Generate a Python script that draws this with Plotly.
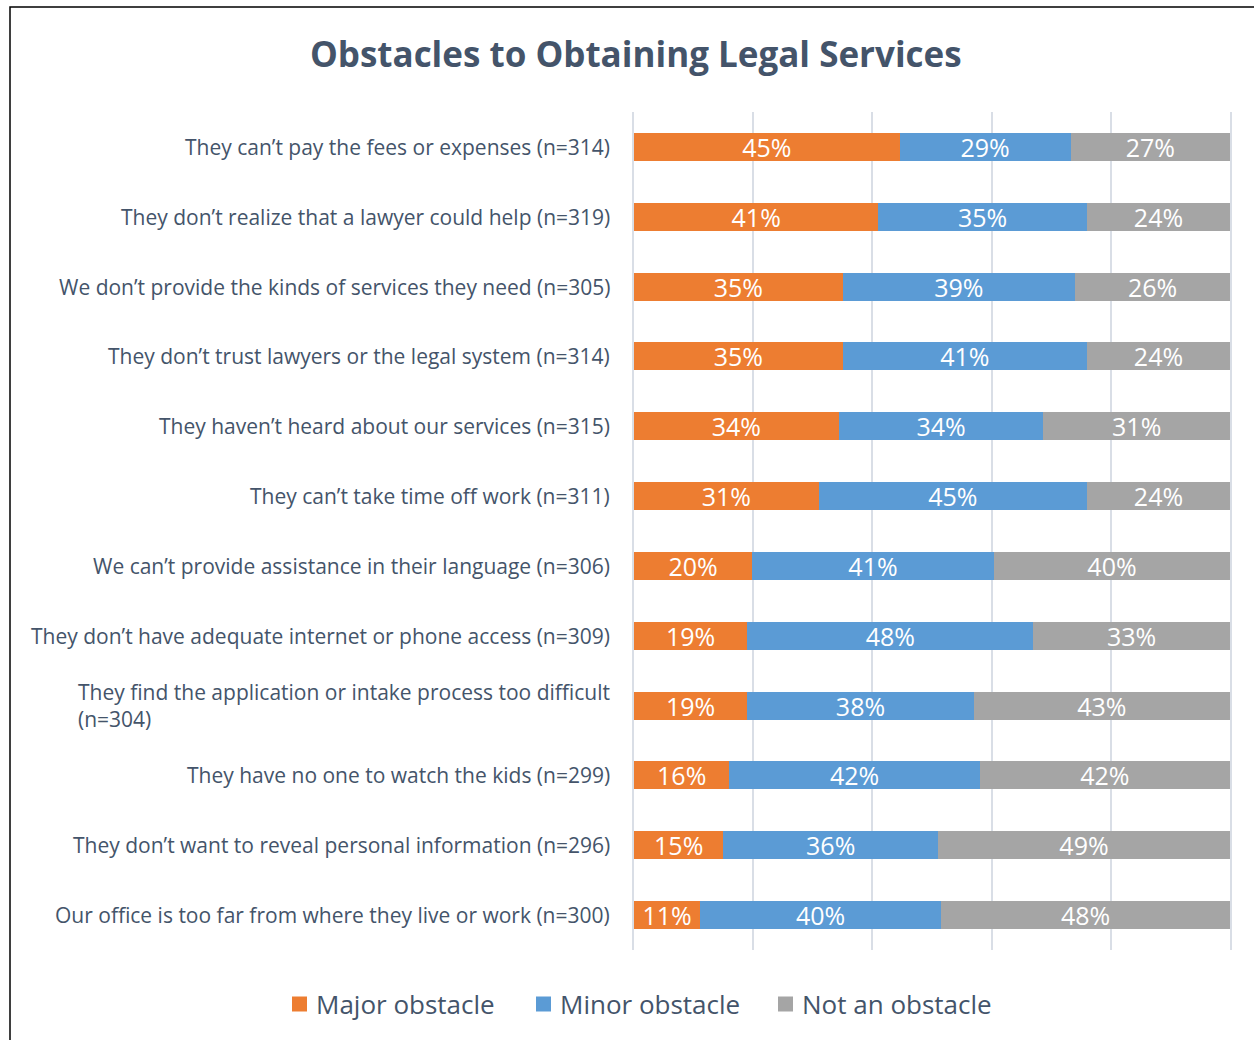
import plotly.graph_objects as go

# Survey responses: share of respondents rating each barrier
categories = [
    "They can’t pay the fees or expenses (n=314)",
    "They don’t realize that a lawyer could help (n=319)",
    "We don’t provide the kinds of services they need (n=305)",
    "They don’t trust lawyers or the legal system (n=314)",
    "They haven’t heard about our services (n=315)",
    "They can’t take time off work (n=311)",
    "We can’t provide assistance in their language (n=306)",
    "They don’t have adequate internet or phone access (n=309)",
    "They find the application or intake process too difficult<br>(n=304)",
    "They have no one to watch the kids (n=299)",
    "They don’t want to reveal personal information (n=296)",
    "Our office is too far from where they live or work (n=300)",
]
major = [45, 41, 35, 35, 34, 31, 20, 19, 19, 16, 15, 11]
minor = [29, 35, 39, 41, 34, 45, 41, 48, 38, 42, 36, 40]
not_obstacle = [27, 24, 26, 24, 31, 24, 40, 33, 43, 42, 49, 48]

series = [
    ("Major obstacle", major, "#ED7D31"),
    ("Minor obstacle", minor, "#5B9BD5"),
    ("Not an obstacle", not_obstacle, "#A5A5A5"),
]

W, H = 1254, 1040
ML, MR, MT, MB = 634, 24, 112, 90
PW, PH = W - ML - MR, H - MT - MB

FONT = "Open Sans"
TEXT = "#44546A"
GRID = "#D9DEE6"

ids = [f"c{i}" for i in range(len(categories))]

fig = go.Figure()
for name, vals, color in series:
    fig.add_trace(go.Bar(
        name=name,
        y=ids,
        x=vals,
        orientation="h",
        marker=dict(color=color, line=dict(width=0)),
        text=[f"{v}%" for v in vals],
        textposition="inside",
        insidetextanchor="middle",
        textfont=dict(color="white", size=25, family=FONT),
        hoverinfo="skip",
        showlegend=False,
    ))

# Paper-coordinate helpers from pixel positions
px = lambda p: (p - ML) / PW
py = lambda p: (H - MB - p) / PH

# Category labels as annotations so wrapped lines stay left-aligned
annotations = []
for cid, label in zip(ids, categories):
    annotations.append(dict(
        x=0, xref="paper", y=cid, yref="y",
        text=label, showarrow=False,
        xanchor="right", yanchor="middle", align="left",
        xshift=-22,
        font=dict(family=FONT, size=21, color=TEXT),
    ))

# Outer frame
shapes = [dict(
    type="rect", xref="paper", yref="paper",
    x0=px(10), x1=px(1300), y0=py(1100), y1=py(7),
    line=dict(color="black", width=1.5), fillcolor="rgba(0,0,0,0)", layer="below",
)]

# Legend row: colour key squares followed by series names
legend_x = [292, 536, 778]
legend_y = 1004
for (name, _, color), lx in zip(series, legend_x):
    shapes.append(dict(
        type="rect", xref="paper", yref="paper",
        x0=px(lx), x1=px(lx + 15), y0=py(legend_y + 7.5), y1=py(legend_y - 7.5),
        line=dict(width=0), fillcolor=color,
    ))
    annotations.append(dict(
        x=px(lx + 22), xref="paper", y=py(legend_y), yref="paper",
        text=name, showarrow=False, xanchor="left", yanchor="middle",
        font=dict(family=FONT, size=26, color=TEXT),
    ))

fig.update_layout(
    width=W, height=H,
    margin=dict(l=ML, r=MR, t=MT, b=MB, autoexpand=False),
    paper_bgcolor="white", plot_bgcolor="white",
    barmode="stack", barnorm="percent", bargap=0.6,
    uniformtext=dict(mode="show", minsize=25),
    title=dict(
        text="<b>Obstacles to Obtaining Legal Services</b>",
        x=0.507, xanchor="center", y=1 - 55 / H, yanchor="middle",
        font=dict(family=FONT, size=35, color=TEXT),
    ),
    xaxis=dict(
        range=[0, 100], dtick=20, showticklabels=False,
        showgrid=True, gridcolor=GRID, gridwidth=1.5,
        zeroline=False, showline=False, fixedrange=True,
    ),
    yaxis=dict(
        categoryorder="array", categoryarray=ids, autorange="reversed",
        showticklabels=False, showgrid=False, zeroline=False,
        showline=True, linecolor=GRID, linewidth=1.5, mirror=True,
    ),
    showlegend=False,
    annotations=annotations,
    shapes=shapes,
)

fig.write_html("out.html")
